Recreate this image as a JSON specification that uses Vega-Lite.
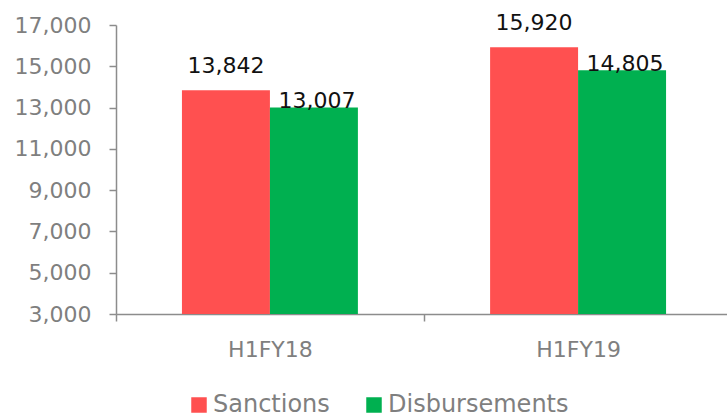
{
  "$schema": "https://vega.github.io/schema/vega-lite/v6.json",
  "autosize": "none",
  "padding": {"left": 116, "top": 25, "right": 0, "bottom": 103},
  "width": 616,
  "height": 289,
  "background": "white",
  "config": {
    "view": {"stroke": null},
    "font": "DejaVu Sans"
  },
  "data": {
    "values": [
      {"period": "H1FY18", "series": "Sanctions", "value": 13842},
      {"period": "H1FY18", "series": "Disbursements", "value": 13007},
      {"period": "H1FY19", "series": "Sanctions", "value": 15920},
      {"period": "H1FY19", "series": "Disbursements", "value": 14805}
    ]
  },
  "encoding": {
    "x": {
      "field": "period", "type": "nominal",
      "scale": {"paddingInner": 0.429, "paddingOuter": 0.214},
      "axis": {
        "title": null, "labelAngle": 0, "labelFontSize": 22, "labelColor": "#7f7f7f",
        "domainColor": "#8c8c8c", "domainWidth": 1.5, "tickColor": "#8c8c8c", "tickWidth": 1.5,
        "tickSize": 7, "bandPosition": 0, "tickOffset": -66, "labelOffset": 66,
        "labelPadding": 18, "labelFont": "DejaVu Sans"
      }
    },
    "xOffset": {"field": "series", "type": "nominal", "sort": ["Sanctions", "Disbursements"], "scale": {"paddingInner": 0, "paddingOuter": 0}},
    "y": {
      "field": "value", "type": "quantitative",
      "scale": {"domain": [3000, 17000], "nice": false, "zero": false},
      "axis": {
        "title": null, "values": [3000, 5000, 7000, 9000, 11000, 13000, 15000, 17000],
        "format": ",d", "grid": false, "labelFontSize": 22, "labelColor": "#7f7f7f",
        "domainColor": "#8c8c8c", "domainWidth": 1.5, "tickColor": "#8c8c8c", "tickWidth": 1.5,
        "tickSize": 7, "labelPadding": 18, "labelFont": "DejaVu Sans"
      }
    }
  },
  "layer": [
    {
      "mark": {"type": "bar"},
      "encoding": {
        "y2": {"datum": 3000},
        "color": {
          "field": "series", "type": "nominal",
          "scale": {"domain": ["Sanctions", "Disbursements"], "range": ["#FF5050", "#00B050"]},
          "legend": {
            "title": null, "orient": "none", "direction": "horizontal",
            "legendX": 71, "legendY": 368, "symbolType": "square", "symbolSize": 240,
            "symbolStrokeWidth": 0, "labelFontSize": 24, "labelColor": "#7f7f7f",
            "labelOffset": 2, "columnPadding": 32, "padding": 0, "labelLimit": 400,
            "labelFont": "DejaVu Sans"
          }
        }
      }
    },
    {
      "transform": [{"filter": "datum.series == 'Sanctions'"}],
      "mark": {"type": "text", "baseline": "alphabetic", "dy": -17, "fontSize": 22, "color": "#111111"},
      "encoding": {"text": {"field": "value", "type": "quantitative", "format": ",d"}}
    },
    {
      "transform": [{"filter": "datum.series == 'Disbursements'"}],
      "mark": {"type": "text", "baseline": "alphabetic", "dy": 1, "dx": 3, "fontSize": 22, "color": "#111111"},
      "encoding": {"text": {"field": "value", "type": "quantitative", "format": ",d"}}
    }
  ]
}
